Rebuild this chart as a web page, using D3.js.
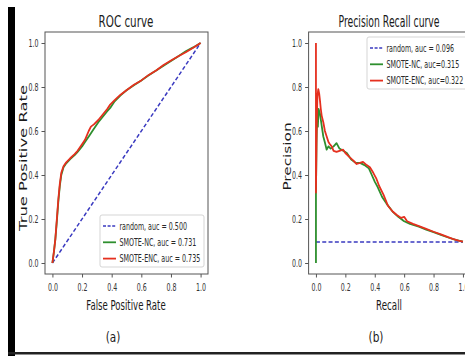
<!DOCTYPE html>
<html><head><meta charset="utf-8">
<script src="https://cdn.jsdelivr.net/npm/d3@7"></script>
<style>html,body{margin:0;padding:0;background:#fff}svg{display:block}</style>
</head><body>
<svg id="c" width="465" height="356"></svg>
<script>
// ---------- data ----------
const tickValues = [0.0, 0.2, 0.4, 0.6, 0.8, 1.0];
const seriesNames = ["random", "SMOTE-NC", "SMOTE-ENC"];
const rocLegend = ["random, auc = 0.500", "SMOTE-NC, auc = 0.731", "SMOTE-ENC, auc = 0.735"];
const prLegend = ["random, auc = 0.096", "SMOTE-NC, auc=0.315", "SMOTE-ENC, auc=0.322"];
const rocRandom = [[0, 0], [1, 1]];
const rocNC = [[0,0],[0.01,0.05],[0.02,0.11],[0.03,0.19],[0.04,0.28],[0.05,0.35],[0.06,0.40],[0.075,0.435],[0.09,0.45],[0.12,0.472],[0.15,0.49],[0.17,0.505],[0.2,0.53],[0.22,0.55],[0.25,0.58],[0.28,0.61],[0.31,0.64],[0.34,0.665],[0.37,0.69],[0.39,0.705],[0.42,0.735],[0.46,0.762],[0.5,0.785],[0.55,0.808],[0.6,0.83],[0.65,0.853],[0.7,0.875],[0.75,0.897],[0.8,0.918],[0.85,0.94],[0.9,0.962],[0.95,0.98],[1,1]];
const rocENC = [[0,0],[0.01,0.05],[0.02,0.11],[0.03,0.2],[0.04,0.29],[0.05,0.36],[0.06,0.41],[0.075,0.44],[0.09,0.455],[0.12,0.476],[0.15,0.495],[0.17,0.51],[0.2,0.54],[0.22,0.56],[0.245,0.6],[0.26,0.62],[0.28,0.63],[0.31,0.65],[0.34,0.675],[0.37,0.70],[0.39,0.72],[0.42,0.74],[0.46,0.765],[0.5,0.785],[0.55,0.81],[0.6,0.83],[0.65,0.855],[0.7,0.875],[0.75,0.9],[0.8,0.92],[0.85,0.94],[0.9,0.958],[0.95,0.978],[1,1]];
const prRandom = [[0, 0.096], [1, 0.096]];
const prNC = [[0,0],[0,0.32],[0.004,0.55],[0.009,0.70],[0.013,0.62],[0.018,0.70],[0.027,0.68],[0.04,0.62],[0.05,0.575],[0.06,0.55],[0.073,0.515],[0.085,0.53],[0.1,0.52],[0.12,0.53],[0.14,0.545],[0.16,0.52],[0.185,0.51],[0.21,0.50],[0.24,0.47],[0.27,0.455],[0.30,0.455],[0.33,0.445],[0.36,0.43],[0.38,0.40],[0.40,0.37],[0.42,0.345],[0.45,0.30],[0.48,0.27],[0.52,0.235],[0.56,0.21],[0.6,0.19],[0.64,0.178],[0.7,0.165],[0.75,0.152],[0.8,0.14],[0.85,0.128],[0.9,0.116],[0.95,0.105],[1.0,0.097]];
const prENC = [[0,1.0],[0,0.32],[0.005,0.62],[0.01,0.76],[0.016,0.79],[0.022,0.77],[0.027,0.74],[0.033,0.70],[0.039,0.67],[0.05,0.64],[0.061,0.60],[0.073,0.575],[0.085,0.55],[0.095,0.54],[0.107,0.53],[0.12,0.51],[0.14,0.505],[0.16,0.51],[0.185,0.515],[0.2,0.50],[0.23,0.48],[0.255,0.465],[0.277,0.45],[0.30,0.455],[0.32,0.46],[0.345,0.445],[0.367,0.435],[0.39,0.41],[0.41,0.385],[0.43,0.35],[0.46,0.31],[0.49,0.26],[0.52,0.235],[0.55,0.218],[0.58,0.205],[0.6,0.21],[0.62,0.19],[0.66,0.178],[0.71,0.165],[0.75,0.155],[0.8,0.142],[0.85,0.13],[0.89,0.12],[0.93,0.11],[0.97,0.102],[1.0,0.097]];

// ---------- style ----------
const colors = {"random": "#3a3ac0", "SMOTE-NC": "#2e8f2e", "SMOTE-ENC": "#e5301f"};
const FONT = "DejaVu Sans";
const SX = 0.63; // horizontal squeeze of the reference image

const svg = d3.select("#c");
svg.append("rect").attr("width", 465).attr("height", 356).attr("fill", "#fff");
// outer frame pieces
svg.append("rect").attr("x", 8).attr("y", 7).attr("width", 7).attr("height", 349).attr("fill", "#000");
svg.append("rect").attr("x", 8).attr("y", 352).attr("width", 457).attr("height", 2.5).attr("fill", "#222");

function sqText(g, x, y, str, size, anchor, sx) {
  return g.append("text")
    .attr("transform", `translate(${x},${y}) scale(${sx},1)`)
    .attr("text-anchor", anchor)
    .attr("font-family", FONT).attr("font-size", size)
    .attr("fill", "#1a1a1a").text(str);
}
function sqVText(g, x, y, str, size, sx) {
  return g.append("text")
    .attr("transform", `translate(${x},${y}) rotate(-90) scale(1,${sx})`)
    .attr("text-anchor", "middle")
    .attr("font-family", FONT).attr("font-size", size)
    .attr("fill", "#1a1a1a").text(str);
}

function panel(opt) {
  const g = svg.append("g");
  const x = d3.scaleLinear().domain([-0.05, 1.05]).range([opt.left, opt.right]);
  const y = d3.scaleLinear().domain([-0.05, 1.05]).range([274, 32]);
  const line = d3.line().x(d => x(d[0])).y(d => y(d[1]));
  const clipId = "clip" + opt.id;
  svg.append("clipPath").attr("id", clipId).append("rect")
    .attr("x", opt.left).attr("y", 32).attr("width", opt.right - opt.left).attr("height", 242);

  const lines = g.append("g").attr("clip-path", `url(#${clipId})`);
  lines.append("path").datum(opt.random).attr("d", line).attr("fill", "none")
    .attr("stroke", colors["random"]).attr("stroke-width", 1.5).attr("stroke-dasharray", "4,2.3");
  lines.append("path").datum(opt.nc).attr("d", line).attr("fill", "none")
    .attr("stroke", colors["SMOTE-NC"]).attr("stroke-width", 1.8).attr("stroke-linejoin", "round");
  lines.append("path").datum(opt.enc).attr("d", line).attr("fill", "none")
    .attr("stroke", colors["SMOTE-ENC"]).attr("stroke-width", 1.8).attr("stroke-linejoin", "round");

  // spines
  g.append("rect").attr("x", opt.left).attr("y", 32).attr("width", opt.right - opt.left).attr("height", 242)
    .attr("fill", "none").attr("stroke", "#555").attr("stroke-width", 1);

  const fmt = d3.format(".1f");
  const ax = g.append("g").attr("transform", "translate(0,274)")
    .call(d3.axisBottom(x).tickValues(tickValues).tickFormat(fmt).tickSize(3.5).tickPadding(3.5));
  const ay = g.append("g").attr("transform", `translate(${opt.left},0)`)
    .call(d3.axisLeft(y).tickValues(tickValues).tickFormat(fmt).tickSize(3.5).tickPadding(3.5));
  [ax, ay].forEach(a => {
    a.select(".domain").remove();
    a.selectAll(".tick line").attr("stroke", "#555");
    a.selectAll(".tick text").attr("font-family", FONT).attr("font-size", 10).attr("fill", "#333");
  });
  ax.selectAll(".tick text").attr("transform", `scale(${SX},1)`).attr("y", 9.5);
  ay.selectAll(".tick text").attr("transform", `scale(${SX},1)`).attr("x", -6.5 / SX);

  // titles and labels
  sqText(g, opt.cx, 27, opt.title, 15, "middle", opt.titleSx);
  sqText(g, opt.cx, 310, opt.xlabel, 14.5, "middle", opt.xlabSx);
  sqVText(g, opt.ylabX, opt.ylabY, opt.ylabel, opt.ylabSize, 0.64);
  sqText(g, opt.subX, 342, opt.sub, 14, "middle", 0.75);

  // legend
  const lg = g.append("g");
  lg.append("rect").attr("x", opt.lgX).attr("y", opt.lgY).attr("width", opt.lgW).attr("height", 52).attr("rx", 2)
    .attr("fill", "#fff").attr("fill-opacity", 0.85).attr("stroke", "#d5d5d5").attr("stroke-width", 1);
  seriesNames.forEach((s, i) => {
    const yy = opt.lgY + 11 + i * 16.3;
    lg.append("line").attr("x1", opt.lgX + 3).attr("x2", opt.lgX + 16).attr("y1", yy).attr("y2", yy)
      .attr("stroke", colors[s]).attr("stroke-width", s === "random" ? 1.5 : 1.8)
      .attr("stroke-dasharray", s === "random" ? "3,1.6" : null);
    sqText(lg, opt.lgX + 19.5, yy + 3.6, opt.legend[i], 10.5, "start", 0.605).attr("fill", "#2a2a2a");
  });
}

panel({id: "a", left: 45, right: 208, random: rocRandom, nc: rocNC, enc: rocENC,
  title: "ROC curve", xlabel: "False Positive Rate", ylabel: "True Positive Rate",
  cx: 126, titleSx: 0.69, xlabSx: 0.59, ylabX: 27, ylabY: 158, ylabSize: 16.4,
  sub: "(a)", subX: 113, lgX: 100, lgY: 215, lgW: 104, legend: rocLegend});
panel({id: "b", left: 308.6, right: 470.3, random: prRandom, nc: prNC, enc: prENC,
  title: "Precision Recall curve", xlabel: "Recall", ylabel: "Precision",
  cx: 389, titleSx: 0.62, xlabSx: 0.6, ylabX: 290.5, ylabY: 156.5, ylabSize: 15.3,
  sub: "(b)", subX: 376, lgX: 367, lgY: 37, lgW: 110, legend: prLegend});
</script>
</body></html>
